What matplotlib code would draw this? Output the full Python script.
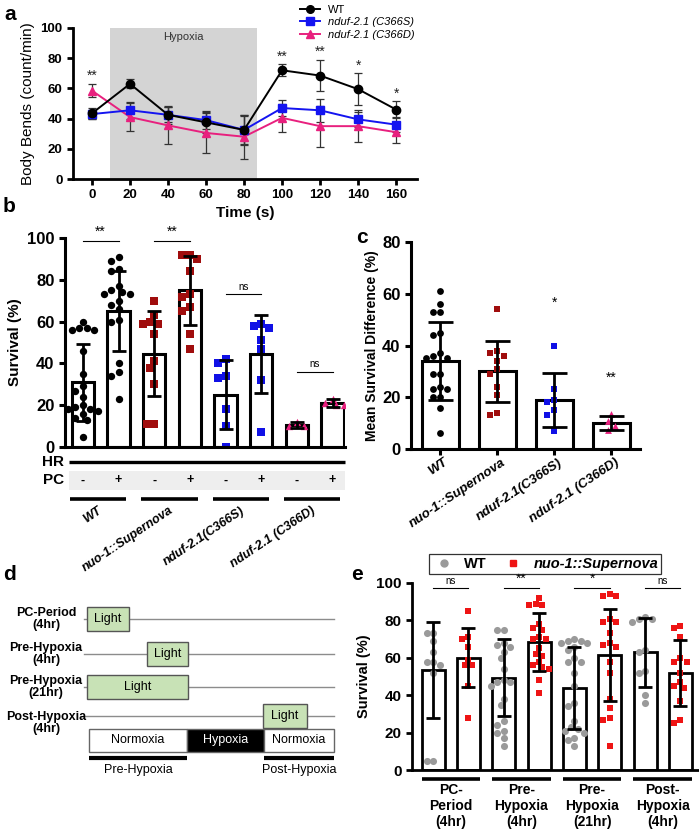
import matplotlib
matplotlib.use("Agg")
import matplotlib.pyplot as plt
from matplotlib.lines import Line2D
from matplotlib.patches import Rectangle

plt.rcParams['font.family'] = ['Liberation Sans', 'DejaVu Sans']

W, H = 699, 831

# ---------------- panel a: body bends over time ----------------
time_s = [0, 20, 40, 60, 80, 100, 120, 140, 160]
wt_bends = [43.5, 63, 42.5, 37.5, 32.5, 72, 68.5, 59.5, 46]
wt_err = [3.5, 3, 6, 7, 10, 4, 10.5, 10.5, 5.5]
c366s_bends = [43, 45.5, 42.5, 39, 32.5, 47, 45.5, 39.5, 36]
c366s_err = [3, 5.5, 5, 6, 9, 5, 7.5, 5, 5]
c366d_bends = [58.5, 41, 35.5, 30.5, 28, 40.5, 35, 35, 31]
c366d_err = [4.5, 9.5, 12.5, 13.5, 14.5, 9.5, 13.5, 10.5, 7]
a_star_time = [0, 100, 120, 140, 160]
a_star_text = ['**', '**', '**', '*', '*']
hypoxia_span = (9.5, 87)

# ---------------- panel b: survival +/- PC ----------------
b_groups = ['WT', 'nuo-1::Supernova', 'nduf-2.1(C366S)', 'nduf-2.1 (C366D)']
b_pc = ['-', '+', '-', '+', '-', '+', '-', '+']
b_mean = [31, 65, 44.7, 75, 25, 44.5, 10.7, 21]
b_sd = [18.5, 19, 20.5, 16.5, 16.5, 18.7, 1.5, 2]
b_points = [
    [60, 57, 57, 56, 56, 46, 35, 29, 27, 24, 20, 19, 18, 18, 17, 16, 14, 13, 5],
    [91, 89, 85, 84, 77, 75, 74, 73, 73, 70, 68, 66, 61, 60, 40, 36, 34, 23],
    [70, 63, 60, 59, 59, 54, 41, 38, 30, 11, 11],
    [92, 92, 90, 84, 73, 72, 67, 65, 54, 47],
    [42, 40, 34, 33, 18, 10, 0],
    [59, 58, 57, 51, 47, 32, 7],
    [12, 10, 10],
    [23, 21, 20, 20],
]
b_sig = ['**', '**', 'ns', 'ns']
b_sig_level = [98.5, 98.5, 73, 36]

# ---------------- panel c: mean survival difference ----------------
c_groups = ['WT', 'nuo-1::Supernova', 'nduf-2.1(C366S)', 'nduf-2.1 (C366D)']
c_mean = [34, 30, 19, 10]
c_sd = [15, 11.8, 10.5, 2.6]
c_points = [
    [61, 56, 53, 53, 45, 44, 37, 36, 35, 35, 29, 29, 24, 23, 23, 20, 20, 16, 6],
    [54, 38, 37, 36, 34, 31, 29, 24, 21, 14, 13],
    [40, 23, 19, 18, 15, 13, 7],
    [13.5, 11, 9, 7.5],
]
c_sig = ['', '', '*', '**']
c_sig_level = [0, 0, 55, 26]

# ---------------- panel d: light schedule ----------------
d_rows = ['PC-Period\n(4hr)', 'Pre-Hypoxia\n(4hr)', 'Pre-Hypoxia\n(21hr)', 'Post-Hypoxia\n(4hr)']
d_light = [(87, 129), (147, 188), (87, 188), (263, 307)]
d_phases = [('Normoxia', 89, 187), ('Hypoxia', 187, 264), ('Normoxia', 264, 334)]

# ---------------- panel e: light timing ----------------
e_periods = ['PC-\nPeriod\n(4hr)', 'Pre-\nHypoxia\n(4hr)', 'Pre-\nHypoxia\n(21hr)', 'Post-\nHypoxia\n(4hr)']
e_wt_mean = [53.5, 49.3, 44, 63]
e_wt_sd = [25.5, 20.5, 22, 18.5]
e_sn_mean = [60, 68.5, 61.5, 51.8]
e_sn_sd = [15.7, 15.5, 24.5, 17.8]
e_wt_points = [
    [73, 73, 69, 63, 58, 58, 56, 52, 5, 5],
    [75, 75, 68, 67, 66, 63, 60, 54, 48, 47, 47, 45, 38, 35, 26, 24, 21, 20, 17, 13],
    [70, 69, 69, 68, 68, 66, 64, 60, 58, 58, 52, 45, 36, 34, 26, 23, 22, 21, 20, 17, 16, 13],
    [82, 81, 81, 79, 64, 63, 53, 52, 40, 36],
]
e_sn_points = [
    [85, 71, 70, 66, 59, 56, 56, 45, 28],
    [92, 89, 88, 88, 78, 76, 75, 71, 70, 70, 65, 62, 61, 58, 56, 55, 54, 48, 41],
    [94, 93, 93, 81, 79, 79, 73, 68, 67, 66, 58, 52, 38, 33, 28, 27, 13],
    [77, 76, 71, 60, 58, 58, 52, 47, 45, 44, 37, 27, 25],
]
e_sig = ['ns', '**', '*', 'ns']

BOLD = dict(fontweight='bold')

fig = plt.figure(figsize=(W / 100, H / 100), dpi=100)


def px_axes(x0, y0, x1, y1):
    return fig.add_axes([x0 / W, 1 - y1 / H, (x1 - x0) / W, (y1 - y0) / H])


def style_axes(ax, lw=2.0):
    for s in ['top', 'right']:
        ax.spines[s].set_visible(False)
    for s in ['left', 'bottom']:
        ax.spines[s].set_linewidth(lw)
    ax.tick_params(width=lw, length=4, direction='out')


def swarm(ax, values, center, diam):
    """deterministic beeswarm x positions (pixels -> data)"""
    tr = ax.transData
    inv = tr.inverted()
    cx = tr.transform((center, 0))[0]
    placed = []
    xs = []
    step = diam * 0.5
    for v in values:
        y = tr.transform((center, v))[1]
        k = 0
        while True:
            off = ((k + 1) // 2) * (-1 if k % 2 else 1) * step
            if all((cx + off - px) ** 2 + (y - py) ** 2 >= (diam * 0.95) ** 2 for px, py in placed):
                break
            k += 1
        placed.append((cx + off, y))
        xs.append(inv.transform((cx + off, y))[0])
    return xs


# ================= a =================
ax_a = px_axes(73, 28, 417, 179)
ax_a.set_xlim(-10, 171)
ax_a.set_ylim(0, 100)
style_axes(ax_a)
ax_a.axvspan(*hypoxia_span, color='#D4D4D4', zorder=0, lw=0)
ax_a.text(sum(hypoxia_span) / 2, 94, 'Hypoxia', ha='center', va='center', fontsize=8, color='#333333')

series = [
    (wt_bends, wt_err, 'black', 'o', 'WT'),
    (c366s_bends, c366s_err, '#1414F0', 's', 'nduf-2.1 (C366S)'),
    (c366d_bends, c366d_err, '#E8207E', '^', 'nduf-2.1 (C366D)'),
]
handles = []
for vals, err, col, mk, lab in series[::-1]:
    ax_a.errorbar(time_s, vals, yerr=err, color=col, ecolor='#333333', elinewidth=0.9,
                  capsize=3, capthick=0.9, marker=mk, ms=6, lw=1.4, zorder=3)
for vals, err, col, mk, lab in series:
    handles.append(Line2D([], [], color=col, marker=mk, ms=5.5, lw=1.4))

tops = [max(a + b, c + d, e + f) for a, b, c, d, e, f in
        zip(wt_bends, wt_err, c366s_bends, c366s_err, c366d_bends, c366d_err)]
for t, s in zip(a_star_time, a_star_text):
    ax_a.text(t, tops[time_s.index(t)] + 2.5, s, ha='center', va='baseline', fontsize=10, color='#222222')

ax_a.set_xticks(time_s)
ax_a.set_yticks(range(0, 101, 20))
for lab in ax_a.get_xticklabels() + ax_a.get_yticklabels():
    lab.set_fontweight('bold')
    lab.set_fontsize(9.5)
ax_a.set_ylabel('Body Bends (count/min)', fontsize=11)
ax_a.set_xlabel('Time (s)', fontsize=11, **BOLD, labelpad=3)

leg = fig.legend(handles, [s[4] for s in series], loc='upper left',
                 bbox_to_anchor=(294 / W, 1 + 1 / H), frameon=False, fontsize=8,
                 handlelength=1.8, handletextpad=0.8, labelspacing=0.25, borderpad=0)
for t in leg.get_texts()[1:]:
    t.set_style('italic')

# ================= b =================
ax_b = px_axes(65, 238, 345, 447)
ax_b.set_xlim(-0.5, 7.35)
ax_b.set_ylim(0, 100)
style_axes(ax_b, lw=2.2)
ax_b.spines['left'].set_bounds(0, 100)
ax_b.set_xticks([])
ax_b.set_yticks(range(0, 101, 20))
for lab in ax_b.get_yticklabels():
    lab.set_fontweight('bold')
    lab.set_fontsize(12)
ax_b.set_ylabel('Survival (%)', fontsize=11, **BOLD)

b_style = [('black', 'o'), ('#A00D0D', 's'), ('#1010E6', 's'), ('#E8207E', '^')]
xb = list(range(8))
ax_b.bar(xb, b_mean, width=0.63, color='white', edgecolor='black', lw=2.2, zorder=1)
for i, pts in enumerate(b_points):
    col, mk = b_style[i // 2]
    xs = swarm(ax_b, pts, i, 7.5)
    ax_b.scatter(xs, pts, s=28, color=col, marker=mk, zorder=2, lw=0)
ax_b.errorbar(xb, b_mean, yerr=b_sd, fmt='none', ecolor='black', elinewidth=2,
              capsize=5, capthick=2, zorder=3)

for g, (sig, lvl) in enumerate(zip(b_sig, b_sig_level)):
    ax_b.plot([2 * g, 2 * g + 1], [lvl, lvl], color='black', lw=0.8, clip_on=False)
    ax_b.text(2 * g + 0.5, lvl + 1.2, sig, ha='center', va='bottom',
              fontsize=10 if sig != 'ns' else 7, clip_on=False)

# HR / PC rows
ax_b.plot([-0.38, 7.35], [-7.2, -7.2], color='black', lw=2.4, clip_on=False, solid_capstyle='butt')
ax_b.add_patch(Rectangle((-0.38, -20.4), 7.73, 8.8, facecolor='#EEEEEE', edgecolor='none',
                         clip_on=False))
ax_b.text(-0.52, -7.2, 'HR', ha='right', va='center', fontsize=11, **BOLD)
ax_b.text(-0.52, -16, 'PC', ha='right', va='center', fontsize=11, **BOLD)
for i, s in enumerate(b_pc):
    ax_b.text(i, -16, s, ha='center', va='center', fontsize=9, **BOLD)
for g, name in enumerate(b_groups):
    ax_b.plot([2 * g - 0.36, 2 * g + 1.22], [-24.7, -24.7], color='black', lw=2.6,
              clip_on=False, solid_capstyle='butt')
    ax_b.text(2 * g + 0.4, -27.5, name, rotation=34, rotation_mode='anchor',
              ha='right', va='top', fontsize=9, fontweight='bold', style='italic')

# ================= c =================
ax_c = px_axes(411, 242, 640, 449)
ax_c.set_xlim(-0.51, 3.5)
ax_c.set_ylim(0, 80)
style_axes(ax_c, lw=2.2)
ax_c.set_yticks(range(0, 81, 20))
xc = list(range(4))
ax_c.set_xticks(xc)
ax_c.set_xticklabels([])
for lab in ax_c.get_yticklabels():
    lab.set_fontweight('bold')
    lab.set_fontsize(12)
ax_c.set_ylabel('Mean Survival Difference (%)', fontsize=10, **BOLD, labelpad=2)
ax_c.bar(xc, c_mean, width=0.65, color='white', edgecolor='black', lw=2.2, zorder=1)
for i, pts in enumerate(c_points):
    col, mk = b_style[i]
    xs = swarm(ax_c, pts, i, 7)
    ax_c.scatter(xs, pts, s=24, color=col, marker=mk, zorder=2, lw=0)
ax_c.errorbar(xc, c_mean, yerr=c_sd, fmt='none', ecolor='black', elinewidth=2,
              capsize=9, capthick=2, zorder=3)
for i, (sig, lvl) in enumerate(zip(c_sig, c_sig_level)):
    if sig:
        ax_c.text(i, lvl, sig, ha='center', va='baseline', fontsize=10)
for i, name in enumerate(c_groups):
    ax_c.text(i + 0.06, -2.8, name, rotation=34, rotation_mode='anchor',
              ha='right', va='top', fontsize=9.5, fontweight='bold', style='italic')

# ================= d =================
ax_d = px_axes(0, 570, 350, 831)
ax_d.set_xlim(0, 350)
ax_d.set_ylim(261, 0)
ax_d.axis('off')
row_y = [49, 84, 117, 146]
label_y = [49, 84, 117, 153]
for name, (x0, x1), yy, ly in zip(d_rows, d_light, row_y, label_y):
    ax_d.plot([84, 334], [yy, yy], color='#8C8C8C', lw=1, zorder=1)
    ax_d.add_patch(Rectangle((x0, yy - 11.7), x1 - x0, 23.4, facecolor='#C8E2B6',
                             edgecolor='#555555', lw=1, zorder=2))
    ax_d.text((x0 + x1) / 2, yy, 'Light', ha='center', va='center', fontsize=9, zorder=3)
    ax_d.text(46, ly, name, ha='center', va='center', fontsize=9, **BOLD,
              multialignment='center', linespacing=1.1)
for name, x0, x1 in d_phases:
    dark = name == 'Hypoxia'
    ax_d.add_patch(Rectangle((x0, 158.5), x1 - x0, 23, facecolor='black' if dark else 'white',
                             edgecolor='#666666', lw=1))
    ax_d.text((x0 + x1) / 2, 170, name, ha='center', va='center', fontsize=9,
              color='white' if dark else 'black')
for name, x0, x1 in [('Pre-Hypoxia', 89, 187), ('Post-Hypoxia', 264, 334)]:
    ax_d.plot([x0, x1], [187.5, 187.5], color='black', lw=3, solid_capstyle='butt')
    ax_d.text((x0 + x1) / 2, 200, name, ha='center', va='center', fontsize=9)

# ================= e =================
ax_e = px_axes(412, 583, 698, 770)
ax_e.set_xlim(-0.6, 7.5)
ax_e.set_ylim(0, 100)
style_axes(ax_e, lw=2.0)
ax_e.set_xticks([])
ax_e.set_yticks(range(0, 101, 20))
for lab in ax_e.get_yticklabels():
    lab.set_fontweight('bold')
    lab.set_fontsize(11)
ax_e.set_ylabel('Survival (%)', fontsize=10.5, **BOLD)
xw = [2 * g for g in range(4)]
xs_ = [2 * g + 1 for g in range(4)]
ax_e.bar(xw, e_wt_mean, width=0.65, color='white', edgecolor='black', lw=2, zorder=1)
ax_e.bar(xs_, e_sn_mean, width=0.65, color='white', edgecolor='black', lw=2, zorder=1)
for g in range(4):
    xx = swarm(ax_e, e_wt_points[g], xw[g], 6.5)
    ax_e.scatter(xx, e_wt_points[g], s=26, color='#9A9A9A', marker='o', zorder=2, lw=0)
    xx = swarm(ax_e, e_sn_points[g], xs_[g], 6.5)
    ax_e.scatter(xx, e_sn_points[g], s=24, color='#EE1414', marker='s', zorder=2, lw=0)
ax_e.errorbar(xw, e_wt_mean, yerr=e_wt_sd, fmt='none', ecolor='black', elinewidth=2,
              capsize=5, capthick=2, zorder=3)
ax_e.errorbar(xs_, e_sn_mean, yerr=e_sn_sd, fmt='none', ecolor='black', elinewidth=2,
              capsize=5, capthick=2, zorder=3)
for g, sig in enumerate(e_sig):
    ax_e.plot([2 * g, 2 * g + 1], [97.5, 97.5], color='black', lw=0.8, clip_on=False)
    ax_e.text(2 * g + 0.5, 98.5, sig, ha='center', va='bottom',
              fontsize=10 if sig != 'ns' else 7, clip_on=False)
for g, name in enumerate(e_periods):
    ax_e.plot([2 * g - 0.33, 2 * g + 1.33], [-5, -5], color='black', lw=2.6,
              clip_on=False, solid_capstyle='butt')
    ax_e.text(2 * g + 0.5, -7, name, ha='center', va='top', fontsize=10, **BOLD,
              linespacing=1.2)
e_handles = [Line2D([], [], marker='o', color='#9A9A9A', ls='none', ms=5),
             Line2D([], [], marker='s', color='#EE1414', ls='none', ms=5)]
leg_e = ax_e.legend(e_handles, ['WT', 'nuo-1::Supernova'], ncol=2, loc='center',
                    bbox_to_anchor=(545 / W, 1 - 564 / H), bbox_transform=fig.transFigure,
                    frameon=True, fancybox=False, edgecolor='black',
                    prop=dict(weight='bold', size=10.5), handletextpad=0.6,
                    columnspacing=1.0, borderpad=0.2, handlelength=1.6)
leg_e.get_frame().set_linewidth(0.9)
leg_e.get_texts()[1].set_style('italic')

# panel letters
for letter, x, y in [('a', 4, 14), ('b', 3, 207), ('c', 356, 238), ('d', 3, 574), ('e', 351, 574)]:
    fig.text(x / W, 1 - y / H, letter, fontsize=15, **BOLD, va='center', ha='left')

fig.savefig('out.png', dpi=100)
